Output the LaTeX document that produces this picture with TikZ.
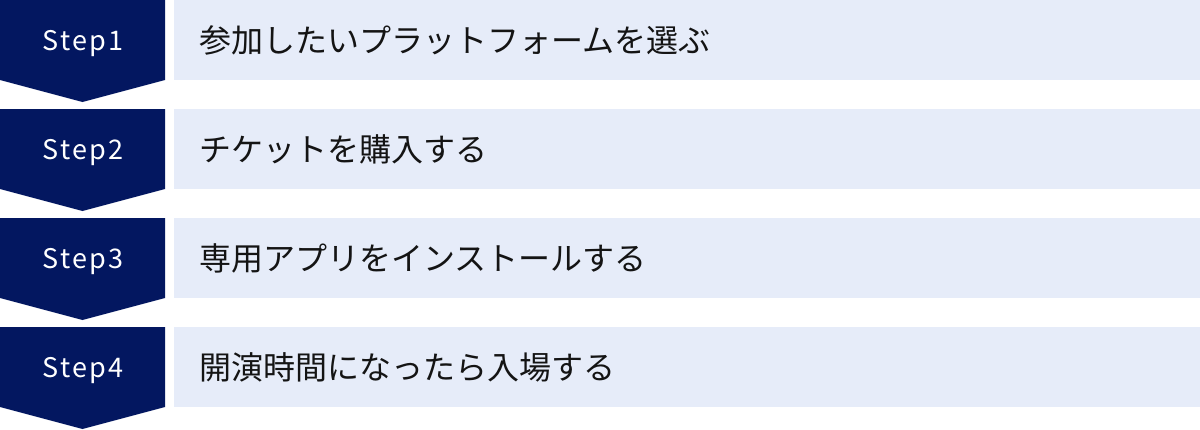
\documentclass[tikz,border=0pt]{standalone}
\usepackage{fontspec}
\setmainfont{Noto Sans CJK JP}
\newfontfamily\stepfont[LetterSpace=8]{Noto Sans CJK JP}
\definecolor{navy}{RGB}{3,23,96}
\definecolor{paleblue}{RGB}{230,236,249}
\definecolor{ink}{RGB}{20,20,20}
\tikzset{
  stepshape/.style={fill=navy, draw=none},
  barshape/.style={fill=paleblue, draw=none},
  steplabel/.style={text=white, font=\stepfont\fontsize{27}{31}\selectfont, inner sep=0pt, anchor=center},
  barlabel/.style={text=ink, font=\fontsize{32}{38}\selectfont, inner sep=0pt, anchor=west},
}
\begin{document}
\begin{tikzpicture}[x=1pt,y=1pt]
\useasboundingbox (0,0) rectangle (1200,-429);
\foreach \i/\lab/\txt in {0/1/参加したいプラットフォームを選ぶ, 1/2/チケットを購入する, 2/3/専用アプリをインストールする, 3/4/開演時間になったら入場する}{
  \pgfmathsetmacro{\t}{\i*109}
  \fill[stepshape] (0,-\t) -- (165,-\t) -- (165,-\t-80) -- (82.5,-\t-102) -- (0,-\t-80) -- cycle;
  \fill[barshape] (174,-\t) rectangle (1200,-\t-80);
  \node[steplabel] (step\lab) at (83,-\t-44) {Step\lab};
  \node[barlabel] (text\lab) at (199,-\t-40) {\txt};
}
\end{tikzpicture}
\end{document}
